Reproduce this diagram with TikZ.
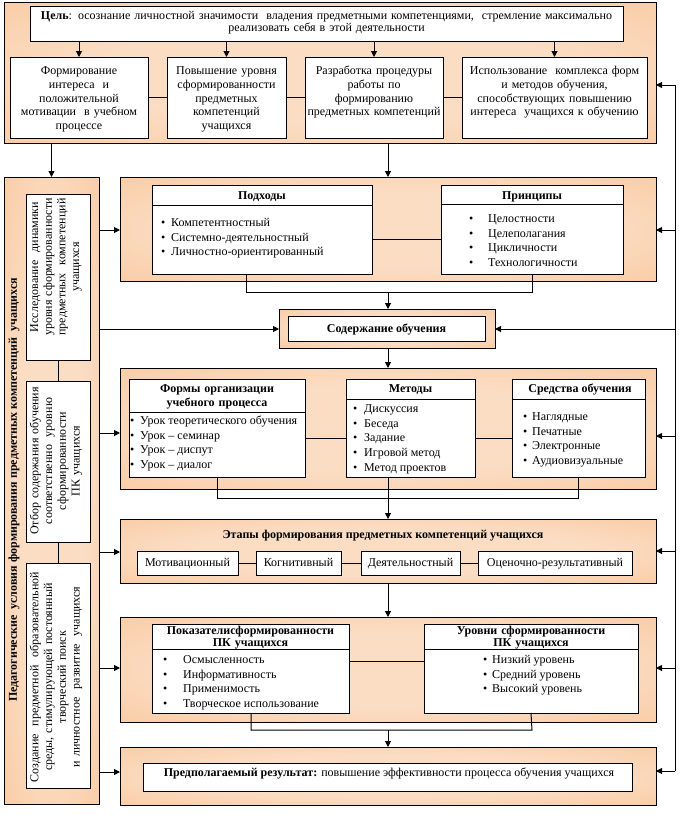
\documentclass[tikz,border=0pt]{standalone}
\usepackage{fontspec}
\setmainfont{Liberation Serif}
\usetikzlibrary{arrows.meta}
\definecolor{pout}{RGB}{249,192,143}
\definecolor{pin}{RGB}{251,221,196}
\pgfdeclareradialshading{panelshade}{\pgfpoint{0bp}{0bp}}{color(0bp)=(pin); color(18bp)=(pin); color(50bp)=(pout)}
\newcommand\rect[7][]{\node[#1, minimum width={#5-#3}, minimum height={#6-#4}, inner sep=0pt, outer sep=0pt] (#2) at ({(#3+#5)/2},{(#4+#6)/2}) {#7};}
\newcommand\itm[2]{\makebox[#1][l]{•}#2}
\begin{document}
\begin{tikzpicture}[x=1pt,y=-1pt,
  panel/.style={draw, line width=1pt, shade, shading=panelshade},
  box/.style={draw, fill=white, line width=1pt, font=\fontsize{12}{14.5}\selectfont},
  stagebox/.style={box, text height=8.5pt, text depth=2.5pt},
  ln/.style={line width=1pt},
  arr/.style={line width=1pt, -{Triangle[length=6pt,width=6pt]}},
  txt/.style={inner sep=0pt, font=\fontsize{12}{14.5}\selectfont},
  ttl/.style={inner sep=0pt, font=\fontsize{12}{14}\selectfont\bfseries},
]
\useasboundingbox (0,0) rectangle (680,820);

% ---------- panels ----------
\rect[panel]{P0}{4}{2}{656}{143}{}
\rect[panel]{PL}{4}{177}{99}{804}{}
\rect[panel]{P1}{120}{177}{656}{281}{}
\rect[panel]{P2}{279}{309}{495}{348}{}
\rect[panel]{P3}{120}{368}{656}{489}{}
\rect[panel]{P4}{120}{519}{656}{583}{}
\rect[panel]{P5}{120}{617}{656}{722}{}
\rect[panel]{P6}{120}{747}{656}{805}{}

% ---------- top panel ----------
\rect[box]{goal}{30}{6}{623}{41}{}
\node[txt, anchor=base, text width=590pt, align=center, font=\fontsize{12}{12}\selectfont] (goalt) at (326.5,19.5)
  {\textbf{Цель}: осознание  личностной значимости \ владения предметными компетенциями, \ стремление  максимально\\ реализовать себя в этой деятельности};
\rect[box]{t1}{10}{57}{148}{138}{}
\rect[box]{t2}{167}{57}{286}{138}{}
\rect[box]{t3}{305}{57}{443}{138}{}
\rect[box]{t4}{462}{57}{647}{138}{}
\node[txt, anchor=base, text width=134pt, align=center, font=\fontsize{12}{13.8}\selectfont] (t1t) at (79,74.5)
  {Формирование\\ интереса \ и\\ положительной\\ мотивации \ в учебном\\ процессе};
\node[txt, anchor=base, text width=115pt, align=center, font=\fontsize{12}{13.8}\selectfont] (t2t) at (226.5,74.5)
  {Повышение уровня\\ сформированности\\ предметных\\ компетенций\\ учащихся};
\node[txt, anchor=base, text width=142pt, align=center, font=\fontsize{12}{13.8}\selectfont] (t3t) at (374,74.5)
  {Разработка процедуры\\ работы по\\ формированию\\ предметных компетенций};
\node[txt, anchor=base, text width=183pt, align=center, font=\fontsize{12}{13.8}\selectfont] (t4t) at (554.5,74.5)
  {Использование \ комплекса форм\\ и методов обучения,\\ способствующих повышению\\ интереса \ учащихся к обучению};
\foreach \b in {t1,t2,t3,t4} \draw[arr] (goal.south -| \b.north) -- (\b.north);
\draw[ln] (t1.east) -- (t2.west);
\draw[ln] (t2.east) -- (t3.west);
\draw[ln] (t3.east) -- (t4.west);

% ---------- left panel ----------
\node[ttl, rotate=90] (LT) at (14,490) {Педагогические \ условия формирования предметных компетенций \ учащихся};
\rect[box]{L1}{26}{194}{90}{360}{}
\rect[box]{L2}{26}{381}{90}{542}{}
\rect[box]{L3}{26}{563}{90}{788}{}
\node[txt, rotate=90, text width=160pt, align=center, font=\fontsize{12}{13.7}\selectfont] (L1t) at (56,267)
  {Исследование \ динамики\\ уровня сформированности\\ предметных \ компетенций\\ учащихся};
\node[txt, rotate=90, text width=155pt, align=center, font=\fontsize{12}{13.7}\selectfont] (L2t) at (56,461)
  {Отбор содержания обучения\\ соответственно \ уровню\\ сформированности\\ ПК учащихся};
\node[txt, rotate=90, text width=218pt, align=center, font=\fontsize{12}{13.7}\selectfont] (L3t) at (56,677)
  {Создание \ предметной \ образовательной\\ среды, стимулирующей постоянный\\ творческий поиск\\ и личностное \ развитие \ учащихся};
\draw[ln] (L1.south) -- (L2.north);
\draw[ln] (L2.south) -- (L3.north);

% ---------- approaches ----------
\coordinate (mid) at (388,0);
\rect[box]{pod}{152}{185}{372}{274}{}
\rect[box]{pri}{441}{185}{623}{274}{}
\draw[ln] (152,205) -- (372,205);
\draw[ln] (441,204) -- (623,204);
\node[ttl, anchor=base] (podt) at (262,199) {Подходы};
\node[ttl, anchor=base] (prit) at (532,199) {Принципы};
\foreach \t [count=\i] in {Компетентностный, Системно-деятельностный, Личностно-ориентированный}
  \node[txt, anchor=base west] (pod\i) at (161,{226.5+(\i-1)*14.5}) {\itm{10pt}{\t}};
\foreach \t [count=\i] in {Целостности, Целеполагания, Цикличности, Технологичности}
  \node[txt, anchor=base west] (pri\i) at (469,{222.5+(\i-1)*14.5}) {\itm{19pt}{\t}};
\coordinate (c1a) at (372,239);
\coordinate (c1b) at (441,239);
\draw[ln] (c1a) -- (c1b);
\coordinate (pb1) at (246,274);
\coordinate (pb2) at (246,292);
\coordinate (pb3) at (532,292);
\draw[ln] (pb1) -- (pb2) -- (pb3) -- (pri.south);

% ---------- content ----------
\rect[box]{soder}{288}{316}{485}{341}{}
\node[ttl, anchor=base] (sodt) at (386.5,332) {Содержание обучения};

% ---------- forms / methods / means ----------
\rect[box]{form}{129}{379}{305}{477}{}
\rect[box]{met}{346}{379}{475}{477}{}
\rect[box]{sred}{512}{379}{645}{477}{}
\draw[ln] (129,412) -- (305,412);
\draw[ln] (346,399) -- (475,399);
\draw[ln] (512,399) -- (645,399);
\node[ttl, anchor=base, text width=170pt, align=center] (formt) at (217,392.5) {Формы организации\\ учебного процесса};
\node[ttl, anchor=base] (mett) at (410.5,392.5) {Методы};
\node[ttl, anchor=base] (sredt) at (580,392.5) {Средства обучения};
\foreach \t [count=\i] in {Урок теоретического обучения, Урок – семинар, Урок – диспут, Урок – диалог}
  \node[txt, anchor=base west] (form\i) at (130,{424.5+(\i-1)*14.7}) {\itm{10pt}{\t}};
\foreach \t [count=\i] in {Дискуссия, Беседа, Задание, Игровой метод, Метод проектов}
  \node[txt, anchor=base west] (met\i) at (353,{412.5+(\i-1)*14.7}) {\itm{11pt}{\t}};
\foreach \t [count=\i] in {Наглядные, Печатные, Электронные, Аудиовизуальные}
  \node[txt, anchor=base west] (sred\i) at (523,{420.5+(\i-1)*14.7}) {\itm{9pt}{\t}};
\coordinate (c3a) at (305,438);
\coordinate (c3b) at (346,438);
\coordinate (c3c) at (475,438);
\coordinate (c3d) at (512,438);
\draw[ln] (c3a) -- (c3b);
\draw[ln] (c3c) -- (c3d);
\coordinate (fb1) at (217,477);
\coordinate (fb2) at (217,498);
\coordinate (fb3) at (578,498);
\coordinate (fb4) at (578,477);
\draw[ln] (fb1) -- (fb2) -- (fb3) -- (fb4);
\coordinate (mb) at (388,477);

% ---------- stages ----------
\node[ttl, anchor=base] (et) at (383,538.5) {Этапы формирования предметных компетенций учащихся};
\rect[stagebox]{s1}{137}{551}{238}{575}{Мотивационный}
\rect[stagebox]{s2}{256}{551}{341}{575}{Когнитивный}
\rect[stagebox]{s3}{361}{551}{460}{575}{Деятельностный}
\rect[stagebox]{s4}{478}{551}{632}{575}{Оценочно-результативный}
\draw[ln] (s1.east) -- (s2.west);
\draw[ln] (s2.east) -- (s3.west);
\draw[ln] (s3.east) -- (s4.west);

% ---------- indicators / levels ----------
\rect[box]{pok}{152}{624}{349}{713}{}
\rect[box]{urv}{424}{624}{638}{713}{}
\draw[ln] (152,649) -- (349,649);
\draw[ln] (424,649) -- (638,649);
\node[ttl, anchor=base, text width=195pt, align=center, font=\fontsize{12}{12}\selectfont\bfseries] (pokt) at (250.5,634.5) {Показателисформированности\\ ПК учащихся};
\node[ttl, anchor=base, text width=210pt, align=center, font=\fontsize{12}{12}\selectfont\bfseries] (urvt) at (531,634.5) {Уровни сформированности\\ ПК учащихся};
\foreach \t [count=\i] in {Осмысленность, Информативность, Применимость, Творческое использование}
  \node[txt, anchor=base west] (pok\i) at (163,{663.5+(\i-1)*14.7}) {\itm{20pt}{\t}};
\foreach \t [count=\i] in {Низкий уровень, Средний уровень, Высокий уровень}
  \node[txt, anchor=base west] (urv\i) at (483,{663.5+(\i-1)*14.7}) {\itm{9pt}{\t}};
\coordinate (c5a) at (349,661);
\coordinate (c5b) at (424,661);
\draw[ln] (c5a) -- (c5b);
\coordinate (kb1) at (251,713);
\coordinate (kb2) at (251,730);
\coordinate (kb3) at (532,730);
\draw[ln] (kb1) -- (kb2) -- (kb3) -- (urv.south);

% ---------- result ----------
\rect[box]{res}{143}{763}{632}{791}{}
\node[txt, anchor=base] (rest) at (389,776) {\textbf{Предполагаемый результат:} повышение эффективности процесса обучения учащихся};

% ---------- vertical flow ----------
\draw[arr] (P0.south -| PL.north) -- (PL.north);
\draw[arr] (P0.south -| mid) -- (P1.north -| mid);
\draw[arr] (pb2 -| mid) -- (P2.north -| mid);
\draw[arr] (P2.south -| mid) -- (P3.north -| mid);
\draw[arr] (mb) -- (P4.north -| mid);
\draw[arr] (P4.south -| mid) -- (P5.north -| mid);
\draw[arr] (kb2 -| mid) -- (P6.north -| mid);

% ---------- left arrows ----------
\foreach \y/\p in {230/P1, 433/P3, 552/P4, 668/P5, 772/P6} {
  \coordinate (la) at (99,\y);
  \draw[arr] (la) -- (la -| \p.west);
}
\coordinate (la2) at (99,329);
\draw[arr] (la2) -- (la2 -| P2.west);

% ---------- right feedback ----------
\coordinate (rtop) at (675,85);
\coordinate (rbot) at (675,771);
\draw[ln] (rtop) -- (rbot);
\draw[arr] (rtop) -- (rtop -| P0.east);
\draw[arr] (rbot) -- (rbot -| P6.east);
\foreach \y/\p in {230/P1, 329/P2, 436/P3, 551/P4, 668/P5} {
  \coordinate (ra) at (675,\y);
  \draw[arr] (ra) -- (ra -| \p.east);
}
\end{tikzpicture}
\end{document}
